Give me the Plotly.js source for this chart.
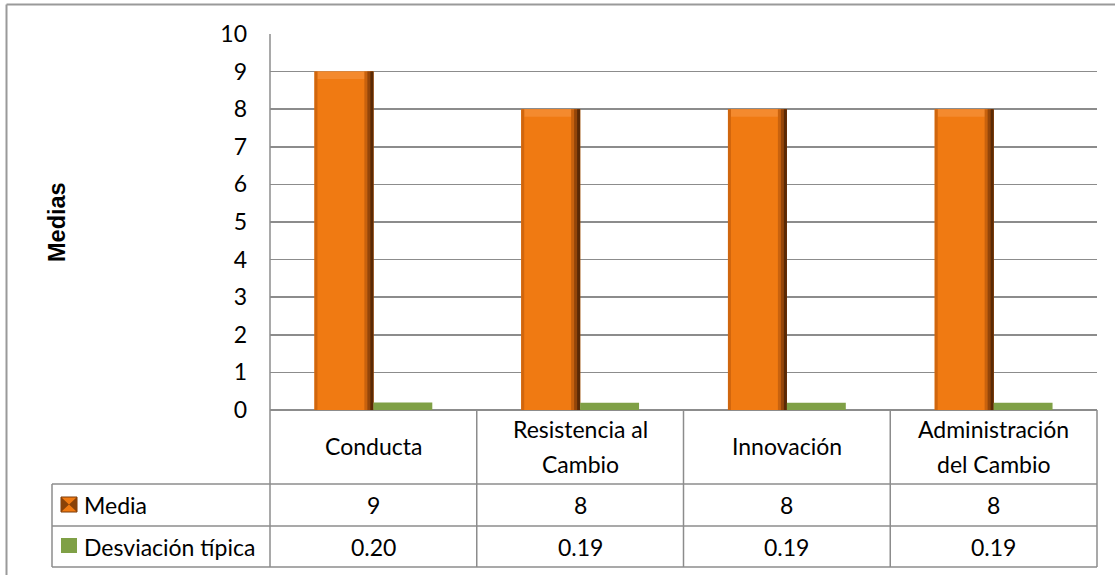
<!DOCTYPE html>
<html>
<head>
<meta charset="utf-8">
<script src="https://cdn.plot.ly/plotly-3.0.1.min.js"></script>
<style>
  html, body { margin: 0; padding: 0; background: #ffffff; }
  #chart { width: 1115px; height: 575px; }
</style>
</head>
<body>
<div id="chart"></div>
<script>
// Categories and series shown in the chart and its data table
const categories = ['Conducta', 'Resistencia al<br>Cambio', 'Innovación', 'Administración<br>del Cambio'];
const seriesNames = ['Media', 'Desviación típica'];
const mediaValues = [9, 8, 8, 8];
const desviacionValues = [0.20, 0.19, 0.19, 0.19];
const yTicks = [0, 1, 2, 3, 4, 5, 6, 7, 8, 9, 10];

// Figure geometry (pixels)
const W = 1115, H = 575;
const plotL = 270, plotR = 1097, plotT = 34, plotB = 410;
const rowHeader = 484, rowMedia = 526, rowDesv = 567;
const tableLeft = 52;
const px = v => (v - plotL) / (plotR - plotL);
const py = v => (plotB - v) / (plotB - plotT);

const ORANGE = '#F07A12';
const GREEN = '#7FA046';
const GRID = '#8c8c8c';
const FONT = 'Lato, "Open Sans", sans-serif';
const FS = 23;

const barW = 0.285;
const pxPerCat = (plotR - plotL) / categories.length;
const unit = p => p / pxPerCat;

const traces = [
  // main orange bars
  { type: 'bar', x: categories, y: mediaValues, name: seriesNames[0],
    width: barW, offset: -barW, marker: { color: ORANGE, line: { width: 0 } },
    hoverinfo: 'x+y' },
  // bevel: slightly lighter top band
  { type: 'bar', x: categories, y: mediaValues.map(() => 0.2),
    base: mediaValues.map(v => v - 0.2), width: barW - unit(10), offset: -barW + unit(3),
    marker: { color: '#F48A2E', line: { width: 0 } }, hoverinfo: 'skip', showlegend: false },
  // bevel: left edge shade
  { type: 'bar', x: categories, y: mediaValues, width: unit(3), offset: -barW,
    marker: { color: '#D0660E', line: { width: 0 } }, hoverinfo: 'skip', showlegend: false },
  // bevel: right edge shade (graded steps)
  { type: 'bar', x: categories, y: mediaValues, width: unit(9), offset: -unit(9),
    marker: { color: '#C8620E', line: { width: 0 } }, hoverinfo: 'skip', showlegend: false },
  { type: 'bar', x: categories, y: mediaValues, width: unit(6), offset: -unit(6),
    marker: { color: '#94460A', line: { width: 0 } }, hoverinfo: 'skip', showlegend: false },
  { type: 'bar', x: categories, y: mediaValues, width: unit(3), offset: -unit(3),
    marker: { color: '#5A2A06', line: { width: 0 } }, hoverinfo: 'skip', showlegend: false },
  // standard deviation bars
  { type: 'bar', x: categories, y: desviacionValues, name: seriesNames[1],
    width: barW, offset: 0, marker: { color: GREEN, line: { width: 0 } },
    hoverinfo: 'x+y' }
];

const shapes = [];
const line = (x0, y0, x1, y1, w, c) => shapes.push({
  type: 'line', xref: 'paper', yref: 'paper',
  x0: px(x0), y0: py(y0), x1: px(x1), y1: py(y1),
  line: { color: c || GRID, width: w || 1.5 }, layer: 'above'
});

// outer chart frame (top and left edges)
line(6.5, 4.5, W, 4.5, 2, '#9a9a9a');
line(6.5, 4.5, 6.5, H, 2, '#9a9a9a');

// value axis line continuing down through the data table
line(plotL, plotT, plotL, rowDesv);
// data table rules
[rowHeader, rowMedia, rowDesv].forEach(y => line(tableLeft, y, plotR, y));
line(tableLeft, rowHeader, tableLeft, rowDesv);
for (let i = 1; i <= categories.length; i++) {
  const xb = plotL + i * pxPerCat;
  line(xb, plotB, xb, rowDesv);
}

// legend keys inside the table
shapes.push({ type: 'rect', xref: 'paper', yref: 'paper',
  x0: px(61), x1: px(77), y0: py(512), y1: py(497),
  fillcolor: ORANGE, line: { color: '#7a3a08', width: 1 } });
shapes.push({ type: 'path', xref: 'paper', yref: 'paper',
  path: `M ${px(61)},${py(497)} L ${px(69)},${py(504.5)} L ${px(61)},${py(512)} Z M ${px(77)},${py(497)} L ${px(69)},${py(504.5)} L ${px(77)},${py(512)} Z`,
  fillcolor: '#8a4208', line: { width: 0 } });
shapes.push({ type: 'rect', xref: 'paper', yref: 'paper',
  x0: px(61), x1: px(77), y0: py(553), y1: py(538),
  fillcolor: GREEN, line: { width: 0 } });

const annotations = [];
const txt = (text, x, xref, y, opts) => annotations.push(Object.assign({
  text, x, xref, y: py(y), yref: 'paper', showarrow: false,
  font: { family: FONT, size: FS, color: '#000' },
  xanchor: 'center', yanchor: 'middle'
}, opts || {}));

// table header: category names (two-line names split into rows)
const headerMid = (plotB + rowHeader) / 2;
categories.forEach((c, i) => {
  const parts = c.split('<br>');
  const gap = 35;
  parts.forEach((p, k) => {
    const yy = headerMid - 1 + (k - (parts.length - 1) / 2) * gap;
    txt(p, c, 'x', yy);
  });
});
// table body values
const midMedia = (rowHeader + rowMedia) / 2;
const midDesv = (rowMedia + rowDesv) / 2;
categories.forEach((c, i) => {
  txt(String(mediaValues[i]), c, 'x', midMedia);
  txt(desviacionValues[i].toFixed(2), c, 'x', midDesv);
});
// series names in the table's first column
txt(seriesNames[0], px(82), 'paper', midMedia, { xanchor: 'left' });
txt(seriesNames[1], px(82), 'paper', midDesv, { xanchor: 'left' });
// value axis title
txt('<b>Medias</b>', px(57), 'paper', (plotT + plotB) / 2, {
  textangle: -90,
  font: { family: '"Liberation Sans", Arial, sans-serif', size: 23.5, color: '#000' }
});

const layout = {
  width: W, height: H,
  margin: { l: plotL, r: W - plotR, t: plotT, b: H - plotB, pad: 0 },
  paper_bgcolor: '#ffffff', plot_bgcolor: '#ffffff',
  barmode: 'overlay',
  showlegend: false,
  xaxis: {
    type: 'category', range: [-0.5, categories.length - 0.5],
    showticklabels: false, showgrid: false, zeroline: false, showline: false, ticks: ''
  },
  yaxis: {
    range: [0, 10], tickvals: yTicks, ticktext: yTicks.map(String),
    showgrid: true, gridcolor: GRID, gridwidth: 1.5,
    zeroline: true, zerolinecolor: GRID, zerolinewidth: 1.5,
    showline: false, ticks: '', ticklabelstandoff: 22,
    tickfont: { family: FONT, size: FS, color: '#000' }
  },
  shapes, annotations
};

Plotly.newPlot('chart', traces, layout, { displayModeBar: false, staticPlot: true });
</script>
</body>
</html>
